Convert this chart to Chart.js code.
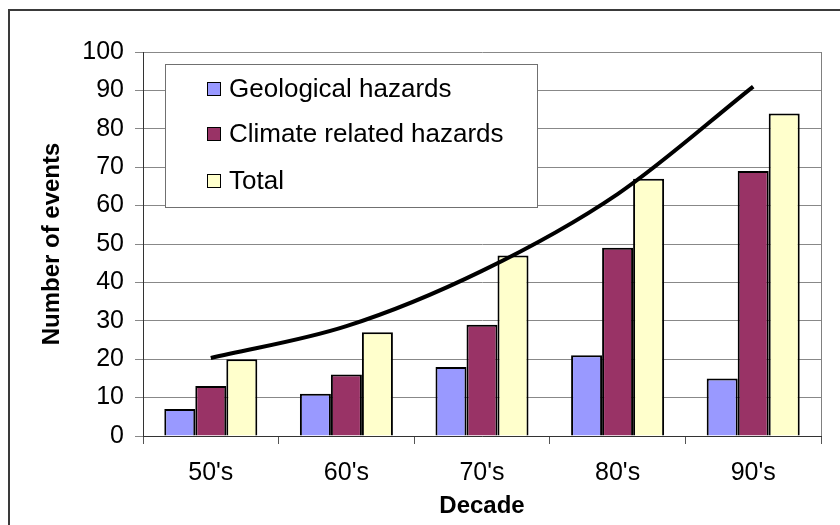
<!DOCTYPE html>
<html lang="en">

<head>
    <meta charset="UTF-8">
    <title>Natural hazards by decade</title>
    <style>
        html, body { margin: 0; padding: 0; background: #fff; }
        #wrap { width: 840px; height: 525px; }
    </style>
</head>

<body>
    <div id="wrap">
        <canvas id="myChart"></canvas>
    </div>

    <script src="https://cdn.jsdelivr.net/npm/chart.js@4.4.2/dist/chart.umd.min.js"></script>

    <script>
        var decades = ["50's", "60's", "70's", "80's", "90's"];
        var geological = [7, 11, 18, 21, 15];
        var climate = [13, 16, 29, 49, 69];
        var total = [20, 27, 47, 67, 84];
        // trend line at each decade
        var trend = [20.3, 28.6, 43, 63, 91];

        Chart.defaults.font.family = '"Liberation Sans", Arial, sans-serif';
        Chart.defaults.color = '#000';

        // outer frame and right edge of the plot area
        var frame = {
            id: 'frame',
            beforeDraw: function (chart) {
                var c = chart.ctx;
                c.save();
                c.strokeStyle = '#3a3a3a';
                c.lineWidth = 2;
                c.beginPath();
                c.moveTo(840, 10);
                c.lineTo(9, 10);
                c.lineTo(9, 525);
                c.stroke();
                c.restore();
            },
            afterDraw: function (chart) {
                var a = chart.chartArea;
                var c = chart.ctx;
                c.save();
                c.strokeStyle = '#808080';
                c.lineWidth = 1;
                c.beginPath();
                c.moveTo(Math.round(a.right) + 0.5, a.top);
                c.lineTo(Math.round(a.right) + 0.5, a.bottom);
                c.stroke();
                c.restore();
            }
        };

        // boxed legend sitting inside the plot, like the spreadsheet one
        var boxLegend = {
            id: 'boxLegend',
            afterDraw: function (chart) {
                var c = chart.ctx;
                var box = { x: 165, y: 64, w: 372, h: 143 };
                var rows = [89, 134, 181];
                c.save();
                c.fillStyle = '#fff';
                c.fillRect(box.x, box.y, box.w, box.h);
                c.strokeStyle = '#707070';
                c.lineWidth = 1;
                c.strokeRect(box.x + 0.5, box.y + 0.5, box.w, box.h);
                c.font = '26px "Liberation Sans", Arial, sans-serif';
                c.textBaseline = 'middle';
                chart.data.datasets.forEach(function (ds, i) {
                    if (ds.type === 'line') return;
                    var y = rows[i];
                    c.fillStyle = ds.backgroundColor;
                    c.fillRect(207, y - 7, 14, 14);
                    c.strokeStyle = '#000';
                    c.strokeRect(207.5, y - 6.5, 13, 13);
                    c.fillStyle = '#000';
                    c.fillText(ds.label, 229, y + 1);
                });
                c.restore();
            }
        };

        new Chart(document.getElementById('myChart'), {
            type: 'bar',
            data: {
                labels: decades,
                datasets: [
                    {
                        label: 'Geological hazards',
                        data: geological,
                        backgroundColor: '#9999ff',
                        borderColor: '#000',
                        borderWidth: 2,
                        order: 1,
                    },
                    {
                        label: 'Climate related hazards',
                        data: climate,
                        backgroundColor: '#993366',
                        borderColor: '#000',
                        borderWidth: 2,
                        order: 1,
                    },
                    {
                        label: 'Total',
                        data: total,
                        backgroundColor: '#ffffcc',
                        borderColor: '#000',
                        borderWidth: 2,
                        order: 1,
                    },
                    {
                        type: 'line',
                        label: 'Trend',
                        data: trend,
                        borderColor: '#000',
                        borderWidth: 4,
                        pointRadius: 0,
                        cubicInterpolationMode: 'monotone',
                        fill: false,
                        order: 0,
                    },
                ]
            },
            options: {
                responsive: true,
                maintainAspectRatio: false,
                animation: false,
                layout: {
                    padding: { top: 52, right: 19, left: 0, bottom: 0 },
                },
                datasets: {
                    bar: {
                        categoryPercentage: 0.686,
                        barPercentage: 1,
                    },
                },
                scales: {
                    x: {
                        offset: true,
                        grid: {
                            offset: true,
                            drawOnChartArea: false,
                            color: '#555',
                            tickLength: 8,
                        },
                        border: { color: '#333', width: 1 },
                        ticks: {
                            font: { size: 25 },
                            padding: 14,
                            maxRotation: 0,
                        },
                        title: {
                            display: true,
                            text: 'Decade',
                            font: { size: 24, weight: 'bold' },
                            padding: { top: 0, bottom: 4 },
                        },
                        afterFit: function (scale) {
                            scale.height = 89;
                        },
                    },
                    y: {
                        min: 0,
                        max: 100,
                        grid: {
                            color: '#888',
                            tickLength: 8,
                        },
                        border: { color: '#333', width: 1 },
                        ticks: {
                            stepSize: 10,
                            font: { size: 25 },
                            padding: 11,
                        },
                        title: {
                            display: true,
                            text: 'Number of events',
                            font: { size: 24, weight: 'bold' },
                            padding: { top: 38, bottom: 0 },
                        },
                        afterFit: function (scale) {
                            scale.width = 143;
                        },
                    },
                },
                plugins: {
                    legend: { display: false },
                    tooltip: { enabled: false },
                },
            },
            plugins: [frame, boxLegend],
        });
    </script>
</body>

</html>
